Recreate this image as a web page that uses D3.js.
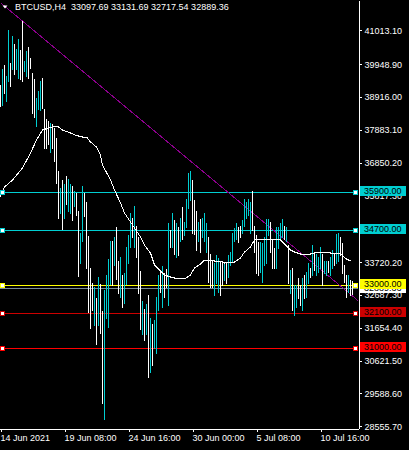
<!DOCTYPE html>
<html><head><meta charset="utf-8">
<script src="https://cdn.jsdelivr.net/npm/d3@7"></script>
<style>html,body{margin:0;padding:0;background:#000;overflow:hidden}svg{display:block}</style>
</head><body>
<svg id="c" width="409" height="450"></svg>
<script>
// ---- data ----
const symbol = "BTCUSD,H4";
const lastOHLC = [33097.69, 33131.69, 32717.54, 32889.36];
const highs = [39300,39800,39930,39580,41030,39990,40840,40590,40430,40750,40400,41310,40060,40370,40500,40150,39680,39490,38890,39110,
39430,39520,38550,38230,38170,38110,38080,37950,37640,36600,36040,36290,36190,36440,36350,36190,36130,35970,35880,35340,
34650,36100,35880,35600,34530,33520,33050,32930,32580,33240,33020,32170,32830,33300,33810,34370,34400,34500,34810,33740,
33870,33330,33370,34210,34560,35250,35120,35470,34870,34500,33430,32490,32230,32390,32670,31950,31760,31890,32610,33330,
33460,33590,33370,33490,34940,34720,35280,35030,34940,34810,35120,35440,34970,35720,36510,36600,36290,35660,35340,34970,
35090,35120,35250,34940,34500,33990,33770,33680,33930,33840,33710,33770,33710,33710,33930,34030,34650,34780,34940,34810,
34870,35030,35720,35600,35720,35600,35970,34870,34560,34340,34340,34310,34500,35090,35090,34970,34460,34150,34810,34810,
34940,35090,34870,34810,34250,33460,33520,32990,32990,33210,32990,33210,33300,33400,33680,33550,34250,34030,33990,33870,
34180,33990,33770,33770,33770,33870,34090,33990,34620,34650,34500,34310,33620,33300,33300,33150,33131.69];
const lows = [38640,38670,39050,38800,39430,39270,39800,39650,39800,39520,39490,39430,39740,39580,39520,39840,38420,38270,38010,38550,
38490,38580,37320,37320,37450,37170,37320,36910,36220,35120,35280,34750,35120,35560,35340,35280,35030,35500,35190,33270,
33680,34370,35160,33550,32140,31640,32200,31730,31140,31730,31480,29280,28780,31950,31670,33020,32990,33620,33180,32740,
32610,32300,32420,33020,33680,34180,34500,34180,33870,32740,31610,31450,31260,31450,30100,30260,30480,31010,30850,32200,
32770,32300,32610,32930,32360,34180,34180,33990,33870,33930,34370,34460,34560,34810,35410,35660,34650,34620,34090,34400,
34030,34500,34400,34030,33080,32930,32930,32670,33050,32770,32670,32990,33150,33050,33240,33620,33710,34400,34460,34340,
34500,34650,34870,35120,35190,34650,34720,34030,33370,33300,33400,33080,33620,33680,34560,34030,33520,33520,33550,34150,
34460,34500,34460,34400,33050,32740,32200,32050,32300,32580,32360,32200,32580,32610,33050,33240,33300,33460,33300,33400,
33550,32990,33370,33300,33400,33300,33550,33620,33680,33770,33930,33370,33080,32610,32770,32670,32717.54];
const upBar = [0,1,0,1,1,0,1,0,1,1,0,0,1,1,0,0,0,0,1,1,
1,0,0,0,0,1,0,0,0,0,1,0,1,0,1,1,0,1,0,0,
1,1,0,0,0,0,0,1,0,1,0,0,1,1,1,1,0,1,0,0,
1,0,1,1,1,1,0,1,0,0,0,1,0,1,0,1,0,1,1,1,
0,1,0,0,1,0,1,0,1,0,1,0,1,1,1,1,0,0,0,1,
0,1,1,1,0,0,0,1,1,1,0,0,1,0,1,1,1,1,1,0,
0,1,1,1,1,1,0,0,0,0,1,1,1,1,1,0,0,0,1,1,
1,1,0,1,0,1,0,1,1,0,0,1,0,1,1,0,1,0,1,1,
1,0,1,1,0,1,1,0,1,1,0,0,0,0,1,0,0];
const maBars = [0,2,6,11,15,18,21,24,26,29,31,35,38,41,43,45,48,50,51,55,57,60,62,65,67,70,72,75,77,80,82,85,87,90,92,95,97,100,102,105,107,110,112,115,117,120,122,125,127,130,132,135,137,140,141,143,145,147,150,152,155,157,160,162,165,167,170,171,173,175];
const maValues = [35784,36083,36303,36681,37153,37562,37876,37939,37980,37971,37876,37782,37703,37656,37656,37499,37341,37090,36775,36303,35989,35580,35265,34982,34793,34510,34258,34007,33629,33440,33314,33252,33220,33189,33189,33314,33535,33661,33786,33786,33755,33755,33692,33723,33723,33849,34038,34195,34416,34416,34447,34447,34416,34416,34353,34227,34101,34038,33975,33960,33975,34007,34007,34007,34007,33975,34007,33912,33818,33755];
const trendBars = [0, 179];
const trendPrices = [41880, 32497];
const levels = [35900, 34700, 33000, 32100, 31000];
const levelLabels = ["35900.00", "34700.00", "33000.00", "32100.00", "31000.00"];
const priceTicks = [41013.10, 39948.90, 38916.00, 37883.10, 36850.20, 35817.30, 34784.40, 33720.20, 32687.30, 31654.40, 30621.50, 29588.60, 28555.70];
const priceTickLabels = ["41013.10","39948.90","38916.00","37883.10","36850.20","35817.30","34784.40","33720.20","32687.30","31654.40","30621.50","29588.60","28555.70"];
const timeTickBars = [0, 32, 64, 96, 128, 160];
const timeTickLabels = ["14 Jun 2021", "19 Jun 08:00", "24 Jun 16:00", "30 Jun 00:00", "5 Jul 08:00", "10 Jul 16:00"];

// ---- drawing ----
const FONT = "'Liberation Sans', Arial, sans-serif";
const CYAN = "#00CED1";
const levelColors = [CYAN, CYAN, "#FFFF00", "#CC0000", "#FF0000"];
const svg = d3.select("#c");
svg.append("rect").attr("width", 409).attr("height", 450).attr("fill", "#000");

const plotH = 428.5;
const x = d3.scaleLinear().domain([0, 179]).range([0.5, 358.5]);
const y = d3.scaleLinear().domain([28485.7, 41966.3]).range([plotH, 0]);
const row = v => Math.floor(y(v));

svg.append("defs").append("clipPath").attr("id", "clip")
  .append("rect").attr("x", 0).attr("y", 0).attr("width", 358).attr("height", 428);
const plot = svg.append("g").attr("clip-path", "url(#clip)");

// horizontal levels + bid line
plot.selectAll("line.lvl").data(levels).enter().append("line")
  .attr("x1", 0).attr("x2", 358)
  .attr("y1", d => row(d) + 0.5).attr("y2", d => row(d) + 0.5)
  .attr("stroke", (d, i) => levelColors[i]).attr("stroke-width", 1)
  .attr("shape-rendering", "crispEdges");
const bid = lastOHLC[3];
plot.append("line").attr("x1", 0).attr("x2", 358)
  .attr("y1", row(bid) + 0.5).attr("y2", row(bid) + 0.5)
  .attr("stroke", "#778899").attr("shape-rendering", "crispEdges");

// trend line
plot.append("line")
  .attr("x1", x(trendBars[0])).attr("y1", y(trendPrices[0]))
  .attr("x2", x(trendBars[1])).attr("y2", y(trendPrices[1]))
  .attr("stroke", "#8B008B").attr("stroke-width", 1).attr("shape-rendering", "crispEdges");

// bars
plot.selectAll("rect.bar").data(highs).enter().append("rect")
  .attr("x", (d, i) => Math.floor(x(i)))
  .attr("y", d => Math.round(y(d)))
  .attr("width", 1)
  .attr("height", (d, i) => Math.max(1, Math.round(y(lows[i])) - Math.round(y(d)) + 1))
  .attr("fill", (d, i) => upBar[i] ? CYAN : "#FFFFFF")
  .attr("shape-rendering", "crispEdges");

// moving average
const maLine = d3.line().x((d, i) => x(maBars[i])).y(d => y(d));
plot.append("path").datum(maValues).attr("d", maLine)
  .attr("fill", "none").attr("stroke", "#FFFFFF").attr("stroke-width", 1)
  .attr("shape-rendering", "crispEdges");

// handles on level lines
levels.forEach((lv, i) => {
  [0.5, 353.5].forEach(hx => {
    svg.append("rect").attr("x", hx).attr("y", row(lv) - 1.5)
      .attr("width", 4).attr("height", 4)
      .attr("fill", "#FFFFFF").attr("stroke", levelColors[i]).attr("stroke-width", 1)
      .attr("shape-rendering", "crispEdges");
  });
});

// right price axis
const yAxis = d3.axisRight(y).tickValues(priceTicks)
  .tickFormat((d, i) => priceTickLabels[i]).tickSize(3).tickSizeOuter(0).tickPadding(3);
const ya = svg.append("g").attr("transform", "translate(358.5,0)").call(yAxis);
ya.select(".domain").attr("stroke", "#FFFFFF").attr("shape-rendering", "crispEdges");
ya.selectAll(".tick line").attr("stroke", "#FFFFFF").attr("shape-rendering", "crispEdges");
ya.selectAll(".tick text").attr("fill", "#FFFFFF").style("font-family", FONT).style("font-size", "9px");

// bottom time axis
const xAxis = d3.axisBottom(x).tickValues(timeTickBars)
  .tickFormat((d, i) => timeTickLabels[i]).tickSize(3).tickSizeOuter(0).tickPadding(3.5);
const xa = svg.append("g").attr("transform", "translate(0," + plotH + ")").call(xAxis);
xa.select(".domain").attr("stroke", "#FFFFFF").attr("shape-rendering", "crispEdges")
  .attr("d", "M0,0.5H358.5");
xa.selectAll(".tick line").attr("stroke", "#FFFFFF").attr("shape-rendering", "crispEdges");
xa.selectAll(".tick text").attr("fill", "#FFFFFF").attr("text-anchor", "start").attr("x", -0.5)
  .style("font-family", FONT).style("font-size", "9px");

// bid price box
svg.append("rect").attr("x", 360).attr("y", row(bid) - 5).attr("width", 46).attr("height", 10)
  .attr("fill", "#FFFFFF").attr("shape-rendering", "crispEdges");
svg.append("text").attr("x", 364).attr("y", row(bid) + 3).text(d3.format(".2f")(bid))
  .attr("fill", "#000").style("font-family", FONT).style("font-size", "9px");

// level boxes
levels.forEach((lv, i) => {
  svg.append("rect").attr("x", 360).attr("y", row(lv) - 6).attr("width", 46).attr("height", 10)
    .attr("fill", levelColors[i]).attr("shape-rendering", "crispEdges");
  svg.append("text").attr("x", 364).attr("y", row(lv) + 2).text(levelLabels[i])
    .attr("fill", "#000").style("font-family", FONT).style("font-size", "9px");
});

// title
svg.append("path").attr("d", "M2.5,5.5L7.5,5.5L5,8.5Z").attr("fill", "#FFFFFF");
svg.append("text").attr("x", 15).attr("y", 10).attr("fill", "#FFFFFF")
  .style("font-family", FONT).style("font-size", "9px").style("white-space", "pre")
  .text(symbol + "  " + lastOHLC.map(d3.format(".2f")).join(" "));
</script>
</body></html>
